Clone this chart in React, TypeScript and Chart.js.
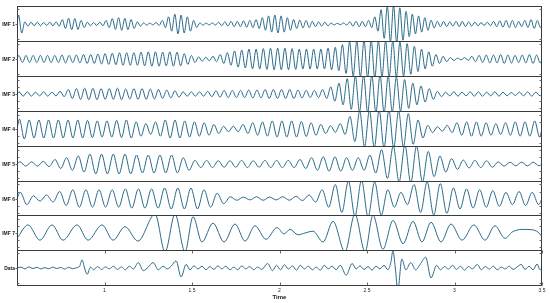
import React, { useEffect, useRef } from "react";
import { Chart, registerables } from "chart.js";

Chart.register(...registerables);

// ---------- data ----------
const timeMin = 0.5;
const timeMax = 3.5;
const timeTicks = [1, 1.5, 2, 2.5, 3, 3.5];
const panelNames = ["IMF 1", "IMF 2", "IMF 3", "IMF 4", "IMF 5", "IMF 6", "IMF 7", "Data"];

// per-cycle amplitudes read along each IMF (fraction of panel half-height)
const imf1Amp = [
  0.5, 0.12, 0.1, 0.1, 0.08, 0.1, 0.12, 0.25, 0.32, 0.3,
  0.2, 0.1, 0.08, 0.1, 0.2, 0.3, 0.35, 0.32, 0.25, 0.12,
  0.06, 0.05, 0.08, 0.2, 0.4, 0.55, 0.5, 0.4, 0.2, 0.06,
  0.05, 0.06, 0.1, 0.12, 0.15, 0.15, 0.18, 0.2, 0.25, 0.35,
  0.45, 0.5, 0.45, 0.35, 0.25, 0.22, 0.2, 0.15, 0.12, 0.1,
  0.05, 0.04, 0.06, 0.12, 0.15, 0.15, 0.2, 0.4, 0.8, 1.0,
  1.05, 0.9, 0.7, 0.55, 0.45, 0.35, 0.22, 0.15, 0.15, 0.12,
  0.15, 0.15, 0.12, 0.1, 0.08, 0.1, 0.15, 0.18, 0.2, 0.2,
  0.15, 0.2, 0.25, 0.2,
];
const imf2Amp = [
  0.2, 0.2, 0.2, 0.2, 0.2, 0.2, 0.22, 0.2, 0.22, 0.25,
  0.25, 0.28, 0.3, 0.32, 0.35, 0.35, 0.35, 0.38, 0.4, 0.4,
  0.38, 0.4, 0.38, 0.3, 0.2, 0.12, 0.1, 0.15, 0.25, 0.35,
  0.45, 0.5, 0.55, 0.55, 0.58, 0.6, 0.6, 0.6, 0.58, 0.55,
  0.55, 0.55, 0.55, 0.6, 0.65, 0.8, 0.95, 1.0, 1.05, 1.05,
  1.0, 1.0, 1.0, 0.95, 0.85, 0.7, 0.55, 0.4, 0.25, 0.15,
  0.08, 0.05, 0.08, 0.15, 0.2, 0.22, 0.22, 0.25, 0.22, 0.2,
  0.22, 0.25, 0.22,
];
const imf3Amp = [
  0.12, 0.12, 0.1, 0.12, 0.1, 0.15, 0.25, 0.3, 0.32, 0.32,
  0.3, 0.3, 0.32, 0.28, 0.3, 0.3, 0.28, 0.25, 0.22, 0.18,
  0.12, 0.12, 0.12, 0.15, 0.18, 0.2, 0.2, 0.2, 0.22, 0.22,
  0.25, 0.25, 0.25, 0.25, 0.22, 0.2, 0.2, 0.25, 0.4, 0.6,
  0.85, 1.0, 1.05, 1.05, 1.05, 1.0, 0.95, 0.8, 0.6, 0.45,
  0.3, 0.15, 0.1, 0.12, 0.1, 0.12, 0.12, 0.1, 0.12, 0.1,
  0.08, 0.1, 0.12, 0.1,
];
const imf4Amp = [
  0.55, 0.5, 0.5, 0.5, 0.5, 0.5, 0.5, 0.48, 0.45, 0.45,
  0.48, 0.5, 0.4, 0.3, 0.4, 0.5, 0.5, 0.45, 0.4, 0.35,
  0.25, 0.15, 0.15, 0.25, 0.35, 0.4, 0.45, 0.45, 0.45, 0.42,
  0.35, 0.25, 0.18, 0.3, 0.7, 1.0, 1.05, 1.05, 1.05, 1.0,
  0.85, 0.5, 0.2, 0.12, 0.2, 0.35, 0.4, 0.4, 0.35, 0.3,
  0.35, 0.4, 0.4, 0.45,
];
const imf5Amp = [
  0.12, 0.12, 0.15, 0.25, 0.35, 0.45, 0.55, 0.55, 0.55, 0.55,
  0.5, 0.5, 0.5, 0.5, 0.35, 0.2, 0.2, 0.18, 0.18, 0.2,
  0.18, 0.2, 0.2, 0.2, 0.25, 0.35, 0.4, 0.4, 0.35, 0.35,
  0.5, 0.8, 1.0, 1.05, 1.0, 0.7, 0.45, 0.3, 0.22, 0.2,
  0.18, 0.12, 0.1, 0.1, 0.1,
];
const imf6Amp = [
  0.35, 0.15, 0.2, 0.4, 0.5, 0.5, 0.5, 0.5, 0.55, 0.55,
  0.55, 0.6, 0.6, 0.6, 0.5, 0.3, 0.1, 0.08, 0.1, 0.08,
  0.1, 0.12, 0.2, 0.5, 0.8, 1.0, 1.05, 0.95, 0.5, 0.35,
  0.8, 0.95, 0.85, 0.6, 0.55, 0.5, 0.45, 0.35, 0.4, 0.35,
];

// IMF 7: extrema
const imf7Time = [
  0.5, 0.563, 0.631, 0.7, 0.763, 0.843, 0.906, 0.986, 1.049, 1.117,
  1.191, 1.289, 1.346, 1.403, 1.46, 1.506, 1.557, 1.62, 1.683, 1.746,
  1.803, 1.86, 1.923, 1.986, 2.026, 2.06, 2.106, 2.146, 2.191, 2.249,
  2.306, 2.374, 2.431, 2.489, 2.534, 2.591, 2.649, 2.706, 2.763, 2.814,
  2.866, 2.923, 2.98, 3.043, 3.111, 3.174, 3.231, 3.289, 3.329, 3.386,
  3.443, 3.477, 3.5,
];
const imf7Value = [
  -0.3, 0.45, -0.4, 0.45, -0.4, 0.45, -0.4, 0.45, -0.4, 0.35,
  -0.45, 1.05, -1.05, 1.05, -1.05, 0.9, -0.5, 0.55, -0.5, 0.5,
  -0.45, 0.4, -0.35, 0.3, -0.05, 0.2, -0.1, 0.0, 0.1, -0.5,
  0.65, -1.05, 1.05, -1.05, 1.0, -0.9, 0.7, -0.6, 0.65, -0.5,
  0.6, -0.5, 0.5, -0.4, 0.45, -0.4, 0.4, -0.3, 0.05, 0.2,
  0.18, 0.05, -0.2,
];

// Data: extrema
const dataTime = [
  0.5, 0.523, 0.545, 0.568, 0.591, 0.614, 0.636, 0.659, 0.682, 0.705,
  0.727, 0.75, 0.773, 0.795, 0.818, 0.841, 0.858, 0.872, 0.886, 0.901,
  0.92, 0.938, 0.96, 0.983, 1.006, 1.028, 1.051, 1.074, 1.097, 1.119,
  1.142, 1.165, 1.193, 1.222, 1.25, 1.278, 1.307, 1.335, 1.358, 1.381,
  1.409, 1.438, 1.466, 1.489, 1.511, 1.534, 1.557, 1.58, 1.602, 1.625,
  1.648, 1.67, 1.693, 1.716, 1.739, 1.761, 1.784, 1.807, 1.83, 1.852,
  1.875, 1.898, 1.932, 1.96, 1.983, 2.006, 2.028, 2.051, 2.074, 2.097,
  2.119, 2.142, 2.165, 2.188, 2.21, 2.233, 2.256, 2.278, 2.301, 2.324,
  2.347, 2.381, 2.415, 2.438, 2.46, 2.483, 2.506, 2.528, 2.551, 2.574,
  2.597, 2.619, 2.636, 2.648, 2.662, 2.676, 2.699, 2.722, 2.75, 2.778,
  2.807, 2.835, 2.866, 2.898, 2.92, 2.943, 2.966, 2.989, 3.011, 3.034,
  3.057, 3.08, 3.102, 3.131, 3.153, 3.176, 3.199, 3.222, 3.244, 3.267,
  3.29, 3.313, 3.335, 3.358, 3.381, 3.403, 3.426, 3.449, 3.472, 3.489,
  3.5,
];
const dataValue = [
  0.0, 0.05, -0.05, 0.06, -0.03, 0.04, -0.05, 0.02, -0.04, 0.05,
  -0.03, 0.03, -0.06, 0.04, -0.04, 0.02, 0.1, 0.45, 0.0, -0.35,
  0.05, -0.1, 0.08, -0.08, 0.06, -0.05, 0.1, -0.08, 0.06, -0.1,
  0.1, -0.05, 0.3, -0.15, 0.05, 0.3, -0.1, 0.1, -0.05, 0.1,
  0.4, -0.5, 0.2, -0.1, 0.12, -0.05, 0.1, -0.1, 0.08, -0.08,
  0.12, -0.05, 0.1, -0.1, 0.05, -0.1, 0.12, -0.05, 0.08, -0.1,
  0.05, -0.08, 0.25, -0.15, 0.15, -0.1, 0.18, -0.05, 0.12, -0.12,
  0.15, -0.05, 0.1, -0.1, 0.05, -0.12, 0.15, -0.05, 0.1, -0.1,
  0.15, -0.4, 0.25, -0.05, 0.12, -0.08, 0.08, -0.12, 0.1, -0.05,
  0.15, -0.1, 0.3, 0.95, 0.0, -1.25, 0.5, -0.1, 0.3, -0.1,
  0.25, 0.6, -0.55, 0.15, -0.1, 0.08, -0.06, 0.15, -0.08, 0.1,
  -0.12, 0.08, -0.05, 0.2, -0.1, 0.08, -0.06, 0.1, -0.1, 0.05,
  -0.05, 0.1, -0.08, 0.06, 0.2, -0.08, 0.1, -0.1, 0.22, -0.1,
  0.0,
];

// ---------- style / layout ----------
const LINE_COLOR = "#2a6b8a";
const FRAME_COLOR = "#3a3a3a";
const FONT = '"Liberation Sans", Arial, sans-serif';
const PANEL_EDGES = [6, 41, 76, 111, 146, 181, 215, 250, 285];
const LEFT_PAD = 17;
const RIGHT_PAD = 8;
const AXIS_HEIGHT = 17;
const yTickSets = [
  [-0.85, 0.85],
  [-0.85, 0.85],
  [-0.8, -0.4, 0.4, 0.8],
  [-0.8, -0.4, 0.4, 0.8],
  [-0.8, -0.4, 0.4, 0.8],
  [-0.8, -0.4, 0.4, 0.8],
  [-0.8, -0.4, 0.4, 0.8],
  [-0.85, 0.85],
];

function cyclePoints(amps: number[]) {
  const span = timeMax - timeMin;
  const p = span / amps.length;
  const pts: { x: number; y: number }[] = [{ x: timeMin, y: 0 }];
  amps.forEach((a, k) => {
    pts.push({ x: timeMin + (k + 0.25) * p, y: a });
    pts.push({ x: timeMin + (k + 0.75) * p, y: -a });
  });
  pts.push({ x: timeMax, y: 0 });
  return pts;
}

function pairPoints(ts: number[], vs: number[]) {
  return ts.map((t, i) => ({ x: t, y: vs[i] }));
}

const panelSeries = [
  cyclePoints(imf1Amp),
  cyclePoints(imf2Amp),
  cyclePoints(imf3Amp),
  cyclePoints(imf4Amp),
  cyclePoints(imf5Amp),
  cyclePoints(imf6Amp),
  pairPoints(imf7Time, imf7Value),
  pairPoints(dataTime, dataValue),
];

const framePlugin = {
  id: "panelFrame",
  afterDraw(chart: any, _args: any, opts: any) {
    const { ctx, chartArea: a, scales } = chart;
    const l = Math.round(a.left) + 0.5;
    const r = Math.round(a.right) - 0.5;
    const t = Math.round(a.top) + 0.5;
    const b = Math.round(a.bottom) - 0.5;
    ctx.save();
    ctx.lineWidth = 1;
    ctx.strokeStyle = FRAME_COLOR;
    ctx.strokeRect(l, t, r - l, b - t);
    const ys = scales.y;
    ctx.strokeStyle = "#666";
    ctx.beginPath();
    for (const v of opts.yTicks as number[]) {
      const py = Math.round(ys.getPixelForValue(v)) + 0.5;
      ctx.moveTo(l, py);
      ctx.lineTo(l + 2, py);
      ctx.moveTo(r, py);
      ctx.lineTo(r - 2, py);
    }
    const p0 = Math.round(ys.getPixelForValue(0)) + 0.5;
    ctx.moveTo(l - 2, p0);
    ctx.lineTo(l, p0);
    ctx.stroke();
    if (opts.xTicks) {
      const xs = scales.x;
      ctx.beginPath();
      for (const v of timeTicks) {
        const px = Math.round(xs.getPixelForValue(v)) + 0.5;
        ctx.moveTo(px, t);
        ctx.lineTo(px, t + 3);
        ctx.moveTo(px, b);
        ctx.lineTo(px, b - 3);
      }
      ctx.stroke();
    }
    ctx.fillStyle = "#222";
    ctx.font = `bold 5px ${FONT}`;
    ctx.textAlign = "right";
    ctx.textBaseline = "middle";
    ctx.fillText(opts.label, l - 2.5, p0);
    ctx.restore();
  },
};

function Panel({ index }: { index: number }) {
  const ref = useRef<HTMLCanvasElement | null>(null);
  const isLast = index === panelNames.length - 1;
  const top = PANEL_EDGES[index];
  const areaH = PANEL_EDGES[index + 1] - top + 1;
  const height = areaH + (isLast ? AXIS_HEIGHT : 0);

  useEffect(() => {
    if (!ref.current) return;
    const chart = new Chart(ref.current, {
      type: "line",
      data: {
        datasets: [
          {
            data: panelSeries[index],
            borderColor: LINE_COLOR,
            borderWidth: 1,
            pointRadius: 0,
            fill: false,
            cubicInterpolationMode: "monotone",
          },
        ],
      },
      options: {
        animation: false,
        responsive: false,
        maintainAspectRatio: false,
        events: [],
        layout: { padding: { left: LEFT_PAD, right: RIGHT_PAD, top: 0, bottom: 0 } },
        plugins: {
          legend: { display: false },
          tooltip: { enabled: false },
          panelFrame: { label: panelNames[index], yTicks: yTickSets[index], xTicks: isLast },
        } as any,
        scales: {
          x: {
            type: "linear",
            min: timeMin,
            max: timeMax,
            display: isLast,
            afterBuildTicks: (s: any) => {
              s.ticks = timeTicks.map((v) => ({ value: v }));
            },
            afterFit: (s: any) => {
              s.height = isLast ? AXIS_HEIGHT : 0;
            },
            grid: { display: false, drawTicks: false },
            border: { display: false },
            ticks: {
              padding: 2,
              color: "#222",
              font: { size: 5, family: FONT },
              maxRotation: 0,
              autoSkip: false,
              callback: (v: any) => String(v),
            },
            title: {
              display: isLast,
              text: "Time",
              color: "#222",
              font: { size: 6, weight: "bold", family: FONT },
              padding: { top: 0, bottom: 2 },
            },
          },
          y: { min: -1, max: 1, display: false },
        },
      },
      plugins: [framePlugin],
    } as any);
    return () => chart.destroy();
  }, [index]);

  return (
    <canvas
      ref={ref}
      width={550}
      height={height}
      style={{ position: "absolute", left: 0, top, width: 550, height, display: "block" }}
    />
  );
}

export default function App() {
  return (
    <div style={{ position: "absolute", left: 0, top: 0, width: 550, height: 303, background: "#fff" }}>
      {panelNames.map((_, i) => (
        <Panel key={i} index={i} />
      ))}
    </div>
  );
}
